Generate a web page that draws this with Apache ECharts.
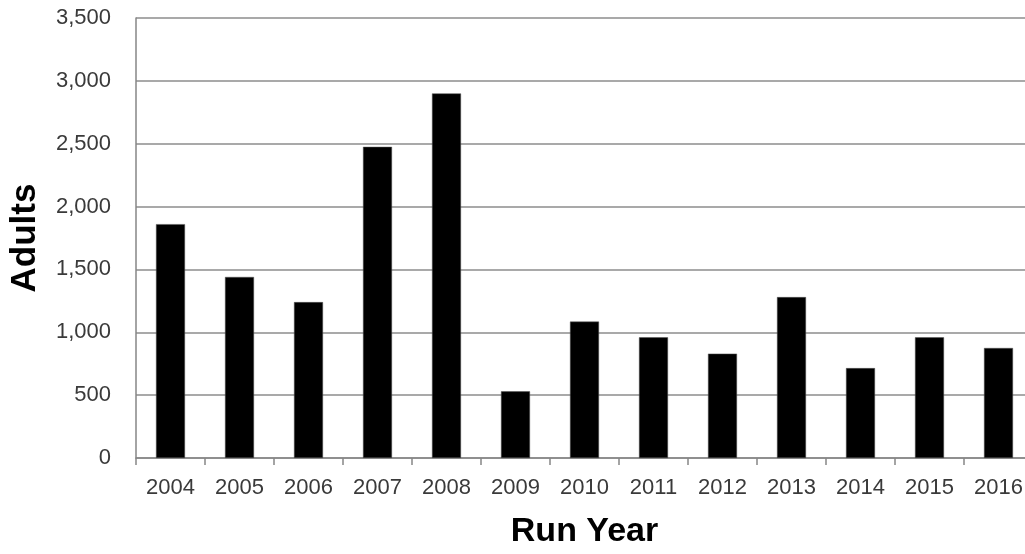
<!DOCTYPE html>
<html>
<head>
<meta charset="utf-8">
<script src="https://cdn.jsdelivr.net/npm/echarts@6/dist/echarts.min.js"></script>
<style>html,body{margin:0;padding:0;background:#fff;overflow:hidden;}#c{width:1033px;height:554px;}</style>
</head>
<body>
<div id="c"></div>
<script>
const years = ['2004','2005','2006','2007','2008','2009','2010','2011','2012','2013','2014','2015','2016'];
const adults = [1860, 1440, 1240, 2475, 2900, 530, 1085, 960, 830, 1280, 715, 960, 875];
const yTicks = {min: 0, max: 3500, interval: 500};

const chart = echarts.init(document.getElementById('c'));
chart.setOption({
  animation: false,
  backgroundColor: '#fff',
  grid: {left: 135, right: 0, top: 18, bottom: 94, containLabel: false},
  xAxis: {
    type: 'category',
    data: years,
    name: 'Run Year',
    nameLocation: 'middle',
    nameGap: 57,
    nameTextStyle: {fontFamily: 'Liberation Sans', fontWeight: 'bold', fontSize: 34, color: '#000'},
    axisLine: {lineStyle: {color: '#868686', width: 1.5}},
    axisTick: {show: true, alignWithLabel: false, length: 7, lineStyle: {color: '#868686', width: 1.5}},
    axisLabel: {margin: 19, fontFamily: 'Liberation Sans', fontSize: 22, color: '#3a3a3a'}
  },
  yAxis: {
    type: 'value',
    min: yTicks.min, max: yTicks.max, interval: yTicks.interval,
    name: 'Adults',
    nameLocation: 'middle',
    nameGap: 93,
    nameTextStyle: {fontFamily: 'Liberation Sans', fontWeight: 'bold', fontSize: 35, color: '#000'},
    axisLine: {show: true, lineStyle: {color: '#868686', width: 1.5}},
    axisTick: {show: false},
    splitLine: {show: true, lineStyle: {color: '#8c8c8c', width: 1.5}},
    axisLabel: {
      margin: 25, fontFamily: 'Liberation Sans', fontSize: 22, color: '#3a3a3a',
      formatter: v => v.toLocaleString('en-US')
    }
  },
  series: [{
    type: 'bar',
    data: adults,
    barWidth: '42%',
    itemStyle: {color: '#000', borderColor: '#555', borderWidth: 0.5}
  }]
});
</script>
</body>
</html>
